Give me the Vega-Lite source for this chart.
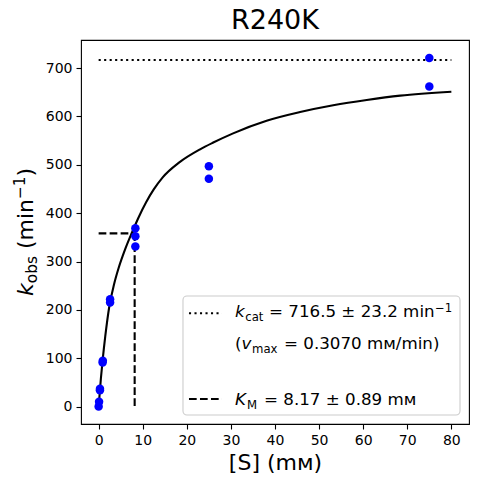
{
  "$schema": "https://vega.github.io/schema/vega-lite/v6.json",
  "width": 388,
  "height": 384,
  "autosize": "none",
  "padding": {"left": 81, "top": 40, "right": 8, "bottom": 60},
  "title": {"text": "R240K", "fontSize": 27, "fontWeight": "normal", "color": "black", "anchor": "middle", "frame": "group", "baseline": "alphabetic", "offset": -16},
  "config": {
    "font": "DejaVu Sans",
    "view": {"stroke": "black", "strokeWidth": 1.1},
    "axis": {"domain": false, "grid": false, "tickColor": "black", "tickWidth": 1.1, "tickSize": 5, "labelColor": "black", "labelFontSize": 14, "labelPadding": 4, "titleColor": "black", "titleFontWeight": "normal"}
  },
  "datasets": {
    "points": [
      {"S": 0, "kobs": 0}, {"S": 0.1, "kobs": 10}, {"S": 0.3, "kobs": 34}, {"S": 0.3, "kobs": 37},
      {"S": 0.9, "kobs": 91}, {"S": 0.95, "kobs": 95},
      {"S": 2.6, "kobs": 215}, {"S": 2.6, "kobs": 222},
      {"S": 8.33, "kobs": 331}, {"S": 8.33, "kobs": 352}, {"S": 8.33, "kobs": 369},
      {"S": 25, "kobs": 471}, {"S": 25, "kobs": 497},
      {"S": 75, "kobs": 662}, {"S": 75, "kobs": 721}
    ],
    "fit": [
      {"S": 0, "v": 0}, {"S": 0.5, "v": 57}, {"S": 0.92, "v": 97}, {"S": 1.5, "v": 145},
      {"S": 2.42, "v": 207}, {"S": 3.5, "v": 253}, {"S": 4.55, "v": 287}, {"S": 6, "v": 325},
      {"S": 7.57, "v": 360}, {"S": 9, "v": 390}, {"S": 10.74, "v": 422}, {"S": 12.5, "v": 449},
      {"S": 14.53, "v": 474}, {"S": 18.3, "v": 505}, {"S": 23, "v": 532}, {"S": 26, "v": 546},
      {"S": 30.5, "v": 565}, {"S": 38.1, "v": 591}, {"S": 45.7, "v": 609}, {"S": 53.2, "v": 623},
      {"S": 60.8, "v": 634}, {"S": 68.4, "v": 643}, {"S": 80, "v": 651}
    ],
    "kcat": [{"S": 0, "S2": 80, "v": 716.5}],
    "km": [
      {"S": 0, "S2": 8.17, "v": 358.25, "v2": 358.25},
      {"S": 8.17, "S2": 8.17, "v": 358.25, "v2": 0}
    ],
    "one": [{"n": 1}]
  },
  "layer": [
    {
      "data": {"name": "fit"},
      "mark": {"type": "line", "color": "black", "strokeWidth": 2.1, "interpolate": "monotone"},
      "encoding": {
        "x": {"field": "S", "type": "quantitative", "title": "[S] (mᴍ)", "scale": {"domain": [-4, 84], "nice": false, "zero": false},
              "axis": {"values": [0, 10, 20, 30, 40, 50, 60, 70, 80], "titleFontSize": 22, "titlePadding": 5}},
        "y": {"field": "v", "type": "quantitative", "title": null, "scale": {"domain": [-36, 758], "nice": false, "zero": false},
              "axis": {"values": [0, 100, 200, 300, 400, 500, 600, 700]}}
      }
    },
    {
      "data": {"name": "kcat"},
      "mark": {"type": "rule", "color": "black", "strokeWidth": 2.1, "strokeDash": [2.1, 3.4]},
      "encoding": {
        "x": {"field": "S", "type": "quantitative", "title": "[S] (mᴍ)"},
        "x2": {"field": "S2"},
        "y": {"field": "v", "type": "quantitative", "title": null}
      }
    },
    {
      "data": {"name": "km"},
      "mark": {"type": "rule", "color": "black", "strokeWidth": 2.1, "strokeDash": [7.7, 3.3]},
      "encoding": {
        "x": {"field": "S", "type": "quantitative", "title": "[S] (mᴍ)"},
        "x2": {"field": "S2"},
        "y": {"field": "v", "type": "quantitative", "title": null},
        "y2": {"field": "v2"}
      }
    },
    {
      "data": {"name": "points"},
      "mark": {"type": "circle", "color": "#0000ff", "opacity": 1, "size": 72},
      "encoding": {
        "x": {"field": "S", "type": "quantitative", "title": "[S] (mᴍ)"},
        "y": {"field": "kobs", "type": "quantitative", "title": null}
      }
    },
    {
      "data": {"name": "one"},
      "mark": {"type": "rect", "fill": "white", "fillOpacity": 0.8, "stroke": "#cccccc", "strokeWidth": 1.1, "cornerRadius": 4},
      "encoding": {
        "x": {"datum": 19.13, "type": "quantitative", "title": "[S] (mᴍ)"},
        "x2": {"datum": 81.96},
        "y": {"datum": 228.7, "type": "quantitative", "title": null},
        "y2": {"datum": -17.4}
      }
    },
    {
      "data": {"name": "one"},
      "mark": {"type": "rule", "color": "black", "strokeWidth": 2.1, "strokeDash": [2.1, 3.4]},
      "encoding": {
        "x": {"datum": 20.49, "type": "quantitative", "title": "[S] (mᴍ)"},
        "x2": {"datum": 27.98},
        "y": {"datum": 193, "type": "quantitative", "title": null}
      }
    },
    {
      "data": {"name": "one"},
      "mark": {"type": "rule", "color": "black", "strokeWidth": 2.1, "strokeDash": [7.7, 3.3]},
      "encoding": {
        "x": {"datum": 20.49, "type": "quantitative", "title": "[S] (mᴍ)"},
        "x2": {"datum": 27.98},
        "y": {"datum": 15.7, "type": "quantitative", "title": null}
      }
    },
    {
      "data": {"name": "one"},
      "mark": {"type": "text", "text": "k", "fontSize": 16.7, "fontStyle": "italic", "align": "left", "baseline": "alphabetic", "color": "black"},
      "encoding": {"x": {"datum": 30.93, "type": "quantitative", "title": "[S] (mᴍ)"}, "y": {"datum": 185.9, "type": "quantitative", "title": null}}
    },
    {
      "data": {"name": "one"},
      "mark": {"type": "text", "text": "cat", "fontSize": 11.7, "align": "left", "baseline": "alphabetic", "dx": 10.2, "dy": 4, "color": "black"},
      "encoding": {"x": {"datum": 30.93, "type": "quantitative", "title": "[S] (mᴍ)"}, "y": {"datum": 185.9, "type": "quantitative", "title": null}}
    },
    {
      "data": {"name": "one"},
      "mark": {"type": "text", "text": "= 716.5 ± 23.2 min", "fontSize": 16.7, "align": "left", "baseline": "alphabetic", "dx": 34, "color": "black"},
      "encoding": {"x": {"datum": 30.93, "type": "quantitative", "title": "[S] (mᴍ)"}, "y": {"datum": 185.9, "type": "quantitative", "title": null}}
    },
    {
      "data": {"name": "one"},
      "mark": {"type": "text", "text": "−1", "fontSize": 11.7, "align": "left", "baseline": "alphabetic", "dx": 200, "dy": -5, "color": "black"},
      "encoding": {"x": {"datum": 30.93, "type": "quantitative", "title": "[S] (mᴍ)"}, "y": {"datum": 185.9, "type": "quantitative", "title": null}}
    },
    {
      "data": {"name": "one"},
      "mark": {"type": "text", "text": "(", "fontSize": 16.7, "align": "left", "baseline": "alphabetic", "color": "black"},
      "encoding": {"x": {"datum": 30.93, "type": "quantitative", "title": "[S] (mᴍ)"}, "y": {"datum": 118.5, "type": "quantitative", "title": null}}
    },
    {
      "data": {"name": "one"},
      "mark": {"type": "text", "text": "v", "fontSize": 16.7, "fontStyle": "italic", "align": "left", "baseline": "alphabetic", "dx": 6.5, "color": "black"},
      "encoding": {"x": {"datum": 30.93, "type": "quantitative", "title": "[S] (mᴍ)"}, "y": {"datum": 118.5, "type": "quantitative", "title": null}}
    },
    {
      "data": {"name": "one"},
      "mark": {"type": "text", "text": "max", "fontSize": 11.7, "align": "left", "baseline": "alphabetic", "dx": 17, "dy": 4, "color": "black"},
      "encoding": {"x": {"datum": 30.93, "type": "quantitative", "title": "[S] (mᴍ)"}, "y": {"datum": 118.5, "type": "quantitative", "title": null}}
    },
    {
      "data": {"name": "one"},
      "mark": {"type": "text", "text": "= 0.3070 mᴍ/min)", "fontSize": 16.7, "align": "left", "baseline": "alphabetic", "dx": 49, "color": "black"},
      "encoding": {"x": {"datum": 30.93, "type": "quantitative", "title": "[S] (mᴍ)"}, "y": {"datum": 118.5, "type": "quantitative", "title": null}}
    },
    {
      "data": {"name": "one"},
      "mark": {"type": "text", "text": "K", "fontSize": 16.7, "fontStyle": "italic", "align": "left", "baseline": "alphabetic", "color": "black"},
      "encoding": {"x": {"datum": 30.93, "type": "quantitative", "title": "[S] (mᴍ)"}, "y": {"datum": 3.3, "type": "quantitative", "title": null}}
    },
    {
      "data": {"name": "one"},
      "mark": {"type": "text", "text": "M", "fontSize": 11.7, "align": "left", "baseline": "alphabetic", "dx": 12, "dy": 4, "color": "black"},
      "encoding": {"x": {"datum": 30.93, "type": "quantitative", "title": "[S] (mᴍ)"}, "y": {"datum": 3.3, "type": "quantitative", "title": null}}
    },
    {
      "data": {"name": "one"},
      "mark": {"type": "text", "text": "= 8.17 ± 0.89 mᴍ", "fontSize": 16.7, "align": "left", "baseline": "alphabetic", "dx": 29, "color": "black"},
      "encoding": {"x": {"datum": 30.93, "type": "quantitative", "title": "[S] (mᴍ)"}, "y": {"datum": 3.3, "type": "quantitative", "title": null}}
    },
    {
      "data": {"name": "one"},
      "mark": {"type": "text", "text": "k", "fontSize": 22, "fontStyle": "italic", "angle": 270, "align": "left", "baseline": "alphabetic", "color": "black"},
      "encoding": {"x": {"datum": -14.89, "type": "quantitative", "title": "[S] (mᴍ)"}, "y": {"datum": 228.7, "type": "quantitative", "title": null}}
    },
    {
      "data": {"name": "one"},
      "mark": {"type": "text", "text": "obs", "fontSize": 15.4, "angle": 270, "align": "left", "baseline": "alphabetic", "dx": 12.7, "dy": 4, "color": "black"},
      "encoding": {"x": {"datum": -14.89, "type": "quantitative", "title": "[S] (mᴍ)"}, "y": {"datum": 228.7, "type": "quantitative", "title": null}}
    },
    {
      "data": {"name": "one"},
      "mark": {"type": "text", "text": "(min", "fontSize": 22, "angle": 270, "align": "left", "baseline": "alphabetic", "dx": 46.9, "color": "black"},
      "encoding": {"x": {"datum": -14.89, "type": "quantitative", "title": "[S] (mᴍ)"}, "y": {"datum": 228.7, "type": "quantitative", "title": null}}
    },
    {
      "data": {"name": "one"},
      "mark": {"type": "text", "text": "−1", "fontSize": 15.4, "angle": 270, "align": "left", "baseline": "alphabetic", "dx": 96.9, "dy": -8, "color": "black"},
      "encoding": {"x": {"datum": -14.89, "type": "quantitative", "title": "[S] (mᴍ)"}, "y": {"datum": 228.7, "type": "quantitative", "title": null}}
    },
    {
      "data": {"name": "one"},
      "mark": {"type": "text", "text": ")", "fontSize": 22, "angle": 270, "align": "left", "baseline": "alphabetic", "dx": 119.6, "color": "black"},
      "encoding": {"x": {"datum": -14.89, "type": "quantitative", "title": "[S] (mᴍ)"}, "y": {"datum": 228.7, "type": "quantitative", "title": null}}
    }
  ]
}
